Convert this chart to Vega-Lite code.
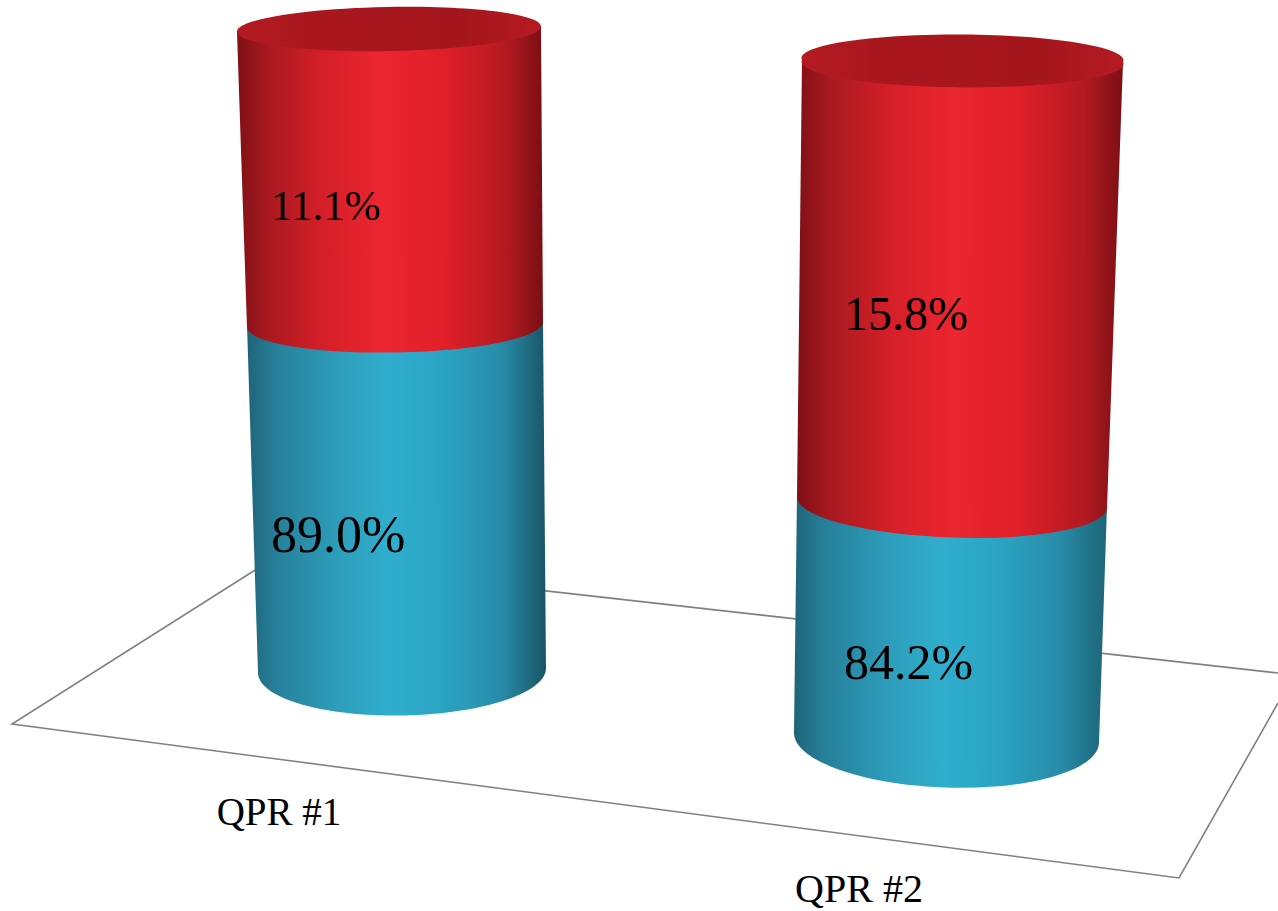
{
  "$schema": "https://vega.github.io/schema/vega-lite/v6.json",
  "width": 1278,
  "height": 911,
  "padding": 0,
  "autosize": {"type": "none"},
  "background": "white",
  "view": {"stroke": null},
  "data": {"values": [
    {"qpr": "QPR #1", "part": "floor", "segment": "floor", "level": 75},
    {"qpr": "QPR #1", "part": "lower", "segment": "QPR #1 lower", "share": 89.0, "from": 75, "level": 89, "label": "89.0%", "labelAt": 79.8},
    {"qpr": "QPR #1", "part": "upper", "segment": "QPR #1 upper", "share": 11.1, "from": 89, "level": 100, "label": "11.1%", "labelAt": 92.9},
    {"qpr": "QPR #1", "part": "top", "segment": "QPR #1 top", "level": 100},
    {"qpr": "QPR #2", "part": "lower", "segment": "QPR #2 lower", "share": 84.2, "from": 75, "level": 84.2, "label": "84.2%", "labelAt": 77.3},
    {"qpr": "QPR #2", "part": "upper", "segment": "QPR #2 upper", "share": 15.8, "from": 84.2, "level": 100, "label": "15.8%", "labelAt": 90.4},
    {"qpr": "QPR #2", "part": "top", "segment": "QPR #2 top", "level": 100}
  ]},
  "encoding": {
    "x": {"field": "qpr", "type": "nominal", "axis": null, "scale": {"type": "point", "padding": 0, "domain": ["QPR #1", "QPR #2"], "range": [390, 960]}},
    "shape": {"field": "segment", "type": "nominal", "legend": null, "scale": {
      "domain": ["floor", "QPR #1 lower", "QPR #1 upper", "QPR #1 top", "QPR #2 lower", "QPR #2 upper", "QPR #2 top"],
      "range": [
        "M888,2 L-119,-111 L-378,53 L789,207 L888,32",
        "M-143,0 L-132,348 A144,45 -1 0 0 156,343 L153,-5 Z",
        "M-153,3 L-143,298 A148,28 -1 0 0 153,293 L151,-3 Z",
        "M-153,3 A152,22 -1 1 1 151,-3 A152,22 -1 1 1 -153,3 Z",
        "M-163,-8 L-166,229 A152.5,50 2 0 0 139,240 L147,3 Z",
        "M-158,-1 L-163,436 A155,35 2 0 0 147,447 L163,1 Z",
        "M-158,-1 A161,24.5 0.4 1 1 163,1 A161,24.5 0.4 1 1 -158,-1 Z"
      ]
    }}
  },
  "resolve": {"scale": {"y": "independent"}},
  "layer": [
    {
      "transform": [{"filter": "datum.qpr === 'QPR #1'"}],
      "encoding": {"y": {"field": "level", "type": "quantitative", "axis": null, "scale": {"domain": [75, 89, 100], "range": [671, 325, 29]}}},
      "layer": [
        {"transform": [{"filter": "datum.part === 'floor'"}],
         "mark": {"type": "point", "size": 4, "filled": false, "fill": null, "stroke": "#808080", "strokeWidth": 1.6, "opacity": 1}},
        {"transform": [{"filter": "datum.part === 'lower'"}],
         "mark": {"type": "point", "size": 4, "filled": true, "opacity": 1, "strokeWidth": 0,
           "fill": {"gradient": "linear", "x1": 0, "x2": 1, "y1": 0, "y2": 0, "stops": [
             {"offset": 0, "color": "#1f6478"}, {"offset": 0.1, "color": "#27809a"}, {"offset": 0.3, "color": "#2d9dba"},
             {"offset": 0.47, "color": "#30aecd"}, {"offset": 0.65, "color": "#2ba4c4"}, {"offset": 0.85, "color": "#288ca8"}, {"offset": 1, "color": "#1a5566"}]}}},
        {"transform": [{"filter": "datum.part === 'upper'"}],
         "mark": {"type": "point", "size": 4, "filled": true, "opacity": 1, "strokeWidth": 0,
           "fill": {"gradient": "linear", "x1": 0, "x2": 1, "y1": 0, "y2": 0, "stops": [
             {"offset": 0, "color": "#7e1015"}, {"offset": 0.1, "color": "#a81920"}, {"offset": 0.28, "color": "#d41f28"},
             {"offset": 0.47, "color": "#eb2630"}, {"offset": 0.68, "color": "#e01f29"}, {"offset": 0.88, "color": "#b31a21"}, {"offset": 1, "color": "#7a0f14"}]}}},
        {"transform": [{"filter": "datum.part === 'top'"}],
         "mark": {"type": "point", "size": 4, "filled": true, "opacity": 1, "strokeWidth": 0,
           "fill": {"gradient": "linear", "x1": 0, "x2": 1, "y1": 0, "y2": 0, "stops": [
             {"offset": 0, "color": "#b51a22"}, {"offset": 0.25, "color": "#a8171e"}, {"offset": 0.75, "color": "#a5161c"}, {"offset": 1, "color": "#b51a22"}]}}},
        {"transform": [{"filter": "isValid(datum.label)"}],
         "mark": {"type": "text", "font": "Liberation Serif", "color": "black", "align": "left", "baseline": "alphabetic", "dx": -119},
         "encoding": {
           "y": {"field": "labelAt", "type": "quantitative", "axis": null},
           "text": {"field": "label"},
           "size": {"field": "label", "type": "nominal", "legend": null, "scale": {"type": "ordinal", "domain": ["89.0%", "11.1%", "84.2%", "15.8%"], "range": [52, 43, 50, 48]}}
         }},
        {"transform": [{"filter": "datum.part === 'lower'"}],
         "mark": {"type": "text", "font": "Liberation Serif", "fontSize": 39, "color": "black", "align": "center", "baseline": "alphabetic", "dx": -111, "dy": 154},
         "encoding": {"y": {"field": "from", "type": "quantitative", "axis": null}, "text": {"field": "qpr"}}}
      ]
    },
    {
      "transform": [{"filter": "datum.qpr === 'QPR #2'"}],
      "encoding": {"y": {"field": "level", "type": "quantitative", "axis": null, "scale": {"domain": [75, 84.2, 100], "range": [738, 503, 61]}}},
      "layer": [
        {"transform": [{"filter": "datum.part === 'lower'"}],
         "mark": {"type": "point", "size": 4, "filled": true, "opacity": 1, "strokeWidth": 0,
           "fill": {"gradient": "linear", "x1": 0, "x2": 1, "y1": 0, "y2": 0, "stops": [
             {"offset": 0, "color": "#1f6478"}, {"offset": 0.1, "color": "#27809a"}, {"offset": 0.3, "color": "#2d9dba"},
             {"offset": 0.47, "color": "#30aecd"}, {"offset": 0.65, "color": "#2ba4c4"}, {"offset": 0.85, "color": "#288ca8"}, {"offset": 1, "color": "#1d6478"}]}}},
        {"transform": [{"filter": "datum.part === 'upper'"}],
         "mark": {"type": "point", "size": 4, "filled": true, "opacity": 1, "strokeWidth": 0,
           "fill": {"gradient": "linear", "x1": 0, "x2": 1, "y1": 0, "y2": 0, "stops": [
             {"offset": 0, "color": "#7e1015"}, {"offset": 0.1, "color": "#a81920"}, {"offset": 0.28, "color": "#d41f28"},
             {"offset": 0.48, "color": "#eb2630"}, {"offset": 0.68, "color": "#e01f29"}, {"offset": 0.88, "color": "#b31a21"}, {"offset": 1, "color": "#7a0f14"}]}}},
        {"transform": [{"filter": "datum.part === 'top'"}],
         "mark": {"type": "point", "size": 4, "filled": true, "opacity": 1, "strokeWidth": 0,
           "fill": {"gradient": "linear", "x1": 0, "x2": 1, "y1": 0, "y2": 0, "stops": [
             {"offset": 0, "color": "#b51a22"}, {"offset": 0.25, "color": "#a8171e"}, {"offset": 0.75, "color": "#a5161c"}, {"offset": 1, "color": "#b51a22"}]}}},
        {"transform": [{"filter": "isValid(datum.label)"}],
         "mark": {"type": "text", "font": "Liberation Serif", "color": "black", "align": "left", "baseline": "alphabetic", "dx": -116},
         "encoding": {
           "y": {"field": "labelAt", "type": "quantitative", "axis": null},
           "text": {"field": "label"},
           "size": {"field": "label", "type": "nominal", "legend": null, "scale": {"type": "ordinal", "domain": ["89.0%", "11.1%", "84.2%", "15.8%"], "range": [52, 43, 50, 48]}}
         }},
        {"transform": [{"filter": "datum.part === 'lower'"}],
         "mark": {"type": "text", "font": "Liberation Serif", "fontSize": 40, "color": "black", "align": "center", "baseline": "alphabetic", "dx": -101, "dy": 164},
         "encoding": {"y": {"field": "from", "type": "quantitative", "axis": null}, "text": {"field": "qpr"}}}
      ]
    }
  ]
}
